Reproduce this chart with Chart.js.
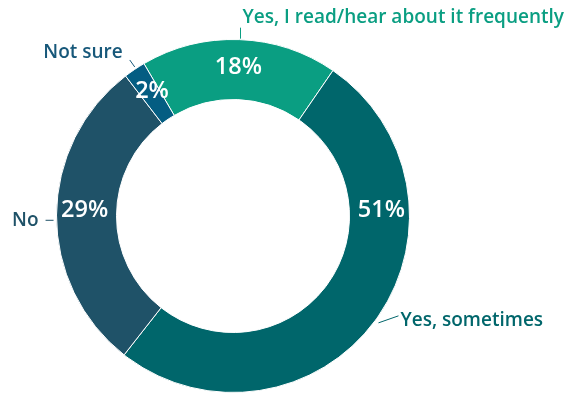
<!DOCTYPE html>
<html>
<head>
<meta charset="utf-8">
<script src="https://cdn.jsdelivr.net/npm/chart.js@4.4.1/dist/chart.umd.min.js"></script>
<style>
  html, body { margin: 0; padding: 0; background: #fff; }
  #grafica { display: block; }
</style>
</head>
<body>
<canvas id="grafica" width="578" height="402"></canvas>
<script>
// Datos de la encuesta (porcentajes)
const categorias = ["Yes, I read/hear about it frequently", "Yes, sometimes", "No", "Not sure"];
const valores = [18, 51, 29, 2];
const colores = ["#0a9e82", "#00666b", "#1f5268", "#045d82"];
const coloresTexto = ["#0a9e82", "#00666b", "#1f5268", "#17587a"];

// Donde va cada etiqueta: fraccion dentro del arco, linea guia y desplazamiento del texto
const colocacion = [
  { pct: 0.5,  guia: 0.505, r0: 1, dx: 0,   dy: -11, tx: 2,  ty: -10, align: "left" },
  { pct: 0.29, guia: 0.5,   r0: 4, dx: 20,  dy: -7,  tx: 2,  ty: 5,   align: "left" },
  { pct: 0.52, guia: 0.484, r0: 3, dx: -8,  dy: 0,   tx: -7, ty: 0,   align: "right" },
  { pct: 0.62, guia: 0.57,  r0: 2, dx: -5,  dy: -7,  tx: -7, ty: -7,  align: "right" }
];

const fuente = "'Open Sans', 'Noto Sans', sans-serif";

// Plugin para dibujar porcentajes y etiquetas con su linea
const etiquetasPlugin = {
  id: "etiquetas",
  afterDatasetsDraw(chart) {
    const ctx = chart.ctx;
    const meta = chart.getDatasetMeta(0);
    meta.data.forEach(function(arco, i) {
      const p = arco.getProps(["x", "y", "startAngle", "endAngle", "innerRadius", "outerRadius"], true);
      const c = colocacion[i];
      const span = p.endAngle - p.startAngle;

      // porcentaje dentro del anillo
      const aPct = p.startAngle + span * c.pct;
      const rPct = (p.innerRadius + p.outerRadius) / 2 + 2;
      ctx.save();
      ctx.fillStyle = "#ffffff";
      ctx.font = "600 23.5px " + fuente;
      ctx.textAlign = "center";
      ctx.textBaseline = "middle";
      ctx.fillText(valores[i] + "%", p.x + Math.cos(aPct) * rPct, p.y + Math.sin(aPct) * rPct);

      // linea guia
      const aG = p.startAngle + span * c.guia;
      const r0 = p.outerRadius + c.r0;
      const x0 = p.x + Math.cos(aG) * r0;
      const y0 = p.y + Math.sin(aG) * r0;
      const x1 = x0 + c.dx;
      const y1 = y0 + c.dy;
      ctx.strokeStyle = coloresTexto[i];
      ctx.lineWidth = 1;
      ctx.beginPath();
      ctx.moveTo(x0, y0);
      ctx.lineTo(x1, y1);
      ctx.stroke();

      // texto de la categoria
      ctx.fillStyle = coloresTexto[i];
      ctx.font = "600 19px " + fuente;
      ctx.textAlign = c.align;
      ctx.textBaseline = "middle";
      ctx.fillText(categorias[i], x1 + c.tx, y1 + c.ty);
      ctx.restore();
    });
  }
};

const data = {
  labels: categorias,
  datasets: [{
    data: valores,
    backgroundColor: colores,
    borderColor: "#ffffff",
    borderWidth: 1
  }]
};

const config = {
  type: "doughnut",
  data,
  options: {
    responsive: false,
    animation: false,
    rotation: -30.3,
    cutout: "66%",
    layout: { padding: { left: 56, right: 168, top: 39, bottom: 9 } },
    plugins: {
      legend: { display: false },
      tooltip: { enabled: false }
    }
  },
  plugins: [etiquetasPlugin]
};

var grafica = new Chart(document.getElementById("grafica"), config);
</script>
</body>
</html>
